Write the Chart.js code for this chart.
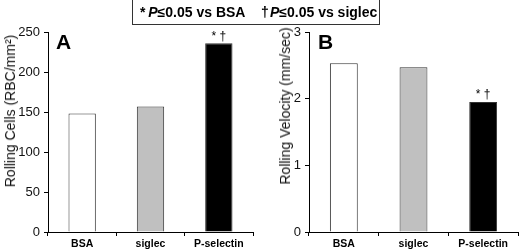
<!DOCTYPE html>
<html>
<head>
<meta charset="utf-8">
<script src="https://cdn.jsdelivr.net/npm/chart.js@4.4.0/dist/chart.umd.min.js"></script>
<style>
  html, body { margin: 0; padding: 0; background: #fff; }
  #wrap { position: relative; width: 520px; height: 251px; overflow: hidden; font-family: "Liberation Sans", Arial, sans-serif; }
  canvas { position: absolute; top: 0; }
  .ytitle { position: absolute; white-space: nowrap; font-size: 14px; color: #111; transform: translate(-50%, -50%) rotate(-90deg); }
  #legend { position: absolute; left: 132px; top: -1px; width: 246px; height: 24px; border: 1px solid #333; box-sizing: content-box; }
  .leg { position: absolute; top: 4px; font-size: 14px; font-weight: bold; color: #000; white-space: nowrap; }
</style>
</head>
<body>
<div id="wrap">
  <canvas id="c1" width="260" height="251" style="left:0;width:260px;height:251px"></canvas>
  <canvas id="c2" width="260" height="251" style="left:260px;width:260px;height:251px"></canvas>
  <div class="ytitle" style="left:10px;top:111px">Rolling Cells (RBC/mm²)</div>
  <div class="ytitle" style="left:285px;top:106px">Rolling Velocity (mm/sec)</div>
  <div id="legend">
    <span class="leg" style="left:7px">*&#8201;<i>P</i>≤0.05 vs BSA</span>
    <span class="leg" style="left:128px">†&#8202;<i>P</i>≤0.05 vs siglec</span>
  </div>
</div>
<script>
const categories = ['BSA', 'siglec', 'P-selectin'];
const rollingCells = [148, 157, 236];
const rollingVelocity = [2.53, 2.47, 1.95];
const significance = ['', '', '* †'];
const cellTicks = [0, 50, 100, 150, 200, 250];
const velocityTicks = [0, 1, 2, 3];
const barColors = ['#ffffff', '#c0c0c0', '#000000'];

const FONT = '"Liberation Sans", Arial, sans-serif';

const annotate = {
  id: 'annotate',
  afterDatasetsDraw(chart, args, opts) {
    const ctx = chart.ctx;
    const meta = chart.getDatasetMeta(0);
    ctx.save();
    ctx.fillStyle = '#000';
    ctx.textAlign = 'center';
    ctx.textBaseline = 'bottom';
    ctx.font = '12px ' + FONT;
    meta.data.forEach((bar, i) => {
      if (significance[i]) ctx.fillText(significance[i], bar.x, bar.y - 1);
    });
    ctx.font = 'bold 21px ' + FONT;
    ctx.textAlign = 'left';
    ctx.textBaseline = 'top';
    ctx.fillText(opts.letter, chart.chartArea.left + opts.dx, chart.chartArea.top + 1);
    ctx.restore();
  }
};

function makeChart(id, values, max, ticks, yWidth, padRight, letter, dx) {
  return new Chart(document.getElementById(id), {
    type: 'bar',
    data: {
      labels: categories,
      datasets: [{
        data: values,
        backgroundColor: barColors,
        borderColor: '#333',
        borderWidth: 1,
        barPercentage: 0.8,
        categoryPercentage: 0.5
      }]
    },
    options: {
      responsive: false,
      animation: false,
      devicePixelRatio: 1,
      layout: { padding: { top: 32, right: padRight, left: 0, bottom: 0 } },
      plugins: { legend: { display: false }, tooltip: { enabled: false }, annotate: { letter: letter, dx: dx } },
      scales: {
        x: {
          grid: { display: true, drawOnChartArea: false, drawTicks: true, tickLength: 4, color: '#000', offset: true },
          border: { display: true, color: '#000', width: 1 },
          ticks: { color: '#000', font: { family: FONT, size: 10.5, weight: 'bold' }, padding: 2, maxRotation: 0 },
          afterFit(s) { s.height = 19; }
        },
        y: {
          min: 0, max: max,
          afterBuildTicks(s) { s.ticks = ticks.map(v => ({ value: v })); },
          grid: { display: true, drawOnChartArea: false, drawTicks: true, tickLength: 4, color: '#000' },
          border: { display: true, color: '#000', width: 1 },
          ticks: { color: '#111', font: { family: FONT, size: 13 }, padding: 4 },
          afterFit(s) { s.width = yWidth; }
        }
      }
    },
    plugins: [annotate]
  });
}

makeChart('c1', rollingCells, 250, cellTicks, 48, 7, 'A', 8);
makeChart('c2', rollingVelocity, 3, velocityTicks, 49, 2, 'B', 9);
</script>
</body>
</html>
